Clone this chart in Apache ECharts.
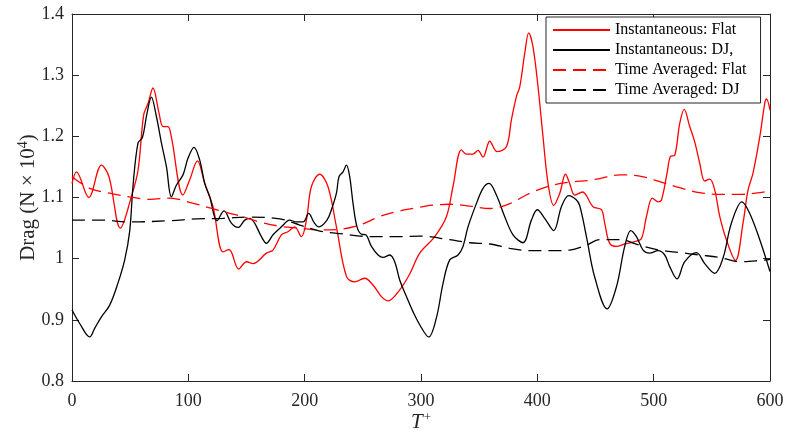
<!DOCTYPE html>
<html>
<head>
<meta charset="utf-8">
<script src="https://cdn.jsdelivr.net/npm/echarts@6/dist/echarts.min.js"></script>
<style>
html,body{margin:0;padding:0;background:#fff;}
#chart{width:791px;height:443px;}
</style>
</head>
<body>
<div id="chart"></div>
<script>
// ---- data ----
var seriesNames = ['Instantaneous: Flat', 'Instantaneous: DJ,', 'Time Averaged: Flat', 'Time Averaged: DJ'];

var flatInstT = [0,3.8,14.4,25.3,31.8,41.6,51,56.8,61.6,65.4,69.6,74.8,78.2,82.5,85.4,95.4,101.2,107.8,114.1,121.2,129.8,135,143.3,150,155.6,167.1,172.8,180,185.7,191.4,197.2,201.5,205.8,212.9,220,227.3,235.9,243,251.6,258.7,266,271.7,281.7,290.3,298.9,311.8,321.9,327.5,334.7,339,344.7,349,353.3,359.1,365.3,373.4,377.7,382,384.9,389.2,392.6,396.3,400.6,404.9,409.2,414.1,419.3,424.2,427.8,432.1,438.8,447.9,455.1,457.9,462.2,468,475.1,483.7,489.5,493.8,498.9,503.8,506.7,511.5,514.4,518.1,522.4,526.2,531,535.3,539.6,543.9,548.2,552.5,556.8,562.5,570.3,576.8,581.1,585.4,591.2,595.5,597,600];
var flatInstV = [1.123,1.142,1.100,1.153,1.134,1.050,1.101,1.145,1.235,1.254,1.279,1.238,1.216,1.216,1.199,1.104,1.129,1.160,1.123,1.085,1.011,1.015,0.983,0.995,0.992,1.009,1.014,1.039,1.044,1.052,1.036,1.063,1.118,1.138,1.118,1.052,0.971,0.962,0.968,0.957,0.938,0.931,0.949,0.975,1.009,1.036,1.069,1.118,1.178,1.171,1.171,1.177,1.166,1.192,1.175,1.183,1.227,1.265,1.281,1.336,1.369,1.346,1.281,1.199,1.123,1.087,1.107,1.138,1.123,1.104,1.109,1.085,1.080,1.058,1.025,1.020,1.024,1.028,1.033,1.069,1.099,1.093,1.096,1.140,1.167,1.169,1.221,1.244,1.216,1.191,1.156,1.127,1.130,1.112,1.069,1.031,0.997,1.058,1.112,1.140,1.199,1.254,1.261,1.243];

var djInstT = [0,6.6,15.2,19.5,25.3,32.4,39.5,45.3,49.6,52.4,56.7,60.5,64.5,68.2,72.6,76.9,81.2,85.4,89.7,95.4,99.7,104.9,109.8,114.1,118.4,124.6,130.7,137,142.7,148.5,152.8,157,162.8,167.1,172.8,180,187.1,192.9,198.6,203.5,207.8,212.1,219.2,223,227.3,229.5,233,235.9,238.7,241.6,245,248.8,252.5,257.4,263.1,267.4,273.1,277.4,281.7,287.5,293.2,298.9,306.6,313.2,319,324.7,331.8,336.1,340.4,347.6,353.3,358.5,364.8,371.9,379.1,387.7,394.9,400,406.3,414.1,420.7,427,433,436.4,442.2,449.3,460,468,475.1,480.3,485.2,490.9,496.6,503.8,509.5,513.8,520.1,526.7,536.8,543.9,552.5,559.6,566.8,575.9,582.6,591.2,600];
var djInstV = [0.916,0.894,0.872,0.886,0.905,0.924,0.960,0.998,1.045,1.118,1.189,1.198,1.238,1.264,1.232,1.189,1.150,1.101,1.120,1.137,1.164,1.182,1.161,1.123,1.101,1.062,1.078,1.058,1.051,1.063,1.066,1.058,1.036,1.025,1.039,1.052,1.063,1.060,1.060,1.074,1.060,1.052,1.063,1.080,1.107,1.134,1.142,1.153,1.134,1.090,1.052,1.040,1.039,1.020,1.006,1.002,1.006,0.995,0.965,0.938,0.913,0.892,0.872,0.903,0.960,0.998,1.006,1.020,1.052,1.090,1.115,1.123,1.104,1.069,1.039,1.026,1.063,1.080,1.066,1.046,1.085,1.103,1.097,1.087,1.036,0.970,0.918,0.954,1.020,1.046,1.036,1.014,1.009,1.013,1.006,0.987,0.967,0.995,1.010,0.992,0.976,1.001,1.058,1.093,1.074,1.031,0.979];

var flatAvgT = [0,15.2,32.4,49.6,66.8,84,101.2,118.4,135.6,144.2,161.4,178.6,195.8,213,230.2,247.4,264.6,281.7,298.9,307.5,324.7,341.9,359.1,376.3,393.5,410.7,427.8,445,453.6,470.8,488,505.2,522.4,539.6,556.8,574,591.2,600];
var flatAvgV = [1.134,1.115,1.107,1.101,1.097,1.099,1.092,1.083,1.074,1.070,1.060,1.053,1.050,1.047,1.048,1.055,1.069,1.078,1.084,1.087,1.089,1.086,1.082,1.090,1.107,1.119,1.125,1.128,1.131,1.137,1.135,1.126,1.116,1.108,1.105,1.105,1.108,1.111];

var djAvgT = [0,25.5,49.6,84,106.9,129.8,152.8,178.6,195.8,213,230.2,247.4,264.6,281.7,298.9,324.7,341.9,359.1,376.3,393.5,410.7,427.8,442.2,453.6,470.8,488,505.2,522.4,539.6,556.8,574,591.2,600];
var djAvgV = [1.063,1.063,1.060,1.062,1.065,1.066,1.068,1.065,1.055,1.045,1.041,1.037,1.036,1.036,1.037,1.031,1.026,1.024,1.017,1.013,1.013,1.014,1.022,1.031,1.031,1.022,1.014,1.010,1.006,1.002,0.995,0.997,0.999];

var xTicks = [0,100,200,300,400,500,600];
var yTicks = [0.8,0.9,1.0,1.1,1.2,1.3,1.4];

function pairs(t, v){ return t.map(function(x,i){ return [x, v[i]]; }); }

var axisColor = '#262626';
var fontFam = '"Liberation Serif","Times New Roman",serif';

var chart = echarts.init(document.getElementById('chart'), null, {renderer:'canvas'});

function mkSeries(name, t, v, color, dashed){
  return {
    name: name, type: 'line', data: pairs(t, v),
    xAxisIndex: 0, yAxisIndex: 0,
    symbol: 'none', smooth: 0.35, animation: false,
    lineStyle: { color: color, width: 1.3, type: dashed ? [13, 7] : 'solid' },
    itemStyle: { color: color }
  };
}

var option = {
  backgroundColor: '#fff',
  animation: false,
  grid: { left: 72, right: 21, top: 14, bottom: 62, containLabel: false },
  legend: {
    orient: 'vertical',
    left: 546, top: 17,
    data: seriesNames,
    itemWidth: 57, itemHeight: 14, itemGap: 4,
    padding: [5, 14, 5, 6],
    borderColor: axisColor, borderWidth: 1,
    backgroundColor: '#fff',
    itemStyle: { opacity: 0 },
    textStyle: { fontFamily: fontFam, fontSize: 16, lineHeight: 14, color: '#000' },
    selectedMode: false
  },
  xAxis: [{
    type: 'value', min: 0, max: 600, interval: 100, position: 'bottom',
    name: '{t|T}{s|+}', nameLocation: 'middle', nameGap: 30, nameMoveOverlap: false,
    nameTextStyle: { rich: {
      t: { fontFamily: fontFam, fontStyle: 'italic', fontSize: 21, color: axisColor },
      s: { fontFamily: fontFam, fontSize: 13, color: axisColor, verticalAlign: 'top', padding: [0,0,9,1] }
    } },
    axisLine: { show: true, onZero: false, lineStyle: { color: axisColor, width: 1 } },
    axisTick: { show: true, inside: true, length: 7, lineStyle: { color: axisColor } },
    axisLabel: { fontFamily: fontFam, fontSize: 18, color: axisColor, margin: 11,
      formatter: function(v){ return String(v); } },
    splitLine: { show: false }
  }, {
    type: 'value', min: 0, max: 600, interval: 100, position: 'top',
    axisLine: { show: true, onZero: false, lineStyle: { color: axisColor, width: 1 } },
    axisTick: { show: true, inside: true, length: 7, lineStyle: { color: axisColor } },
    axisLabel: { show: false }, splitLine: { show: false }
  }],
  yAxis: [{
    type: 'value', min: 0.8, max: 1.4, interval: 0.1, position: 'left',
    name: '{a|Drag (N × 10}{s|4}{a|)}', nameLocation: 'middle', nameGap: 31, nameRotate: 90,
    nameMoveOverlap: false,
    nameTextStyle: { rich: {
      a: { fontFamily: fontFam, fontSize: 21, color: axisColor },
      s: { fontFamily: fontFam, fontSize: 14, color: axisColor, padding: [0,0,11,0] }
    } },
    axisLine: { show: true, onZero: false, lineStyle: { color: axisColor, width: 1 } },
    axisTick: { show: true, inside: true, length: 7, lineStyle: { color: axisColor } },
    axisLabel: { fontFamily: fontFam, fontSize: 18, color: axisColor, margin: 8,
      formatter: function(v){ return String(parseFloat(v.toFixed(1))); } },
    splitLine: { show: false }
  }, {
    type: 'value', min: 0.8, max: 1.4, interval: 0.1, position: 'right',
    axisLine: { show: true, onZero: false, lineStyle: { color: axisColor, width: 1 } },
    axisTick: { show: true, inside: true, length: 7, lineStyle: { color: axisColor } },
    axisLabel: { show: false }, splitLine: { show: false }
  }],
  series: [
    mkSeries(seriesNames[0], flatInstT, flatInstV, '#ff0000', false),
    mkSeries(seriesNames[1], djInstT, djInstV, '#000000', false),
    mkSeries(seriesNames[2], flatAvgT, flatAvgV, '#ff0000', true),
    mkSeries(seriesNames[3], djAvgT, djAvgV, '#000000', true)
  ]
};
chart.setOption(option);
</script>
</body>
</html>
